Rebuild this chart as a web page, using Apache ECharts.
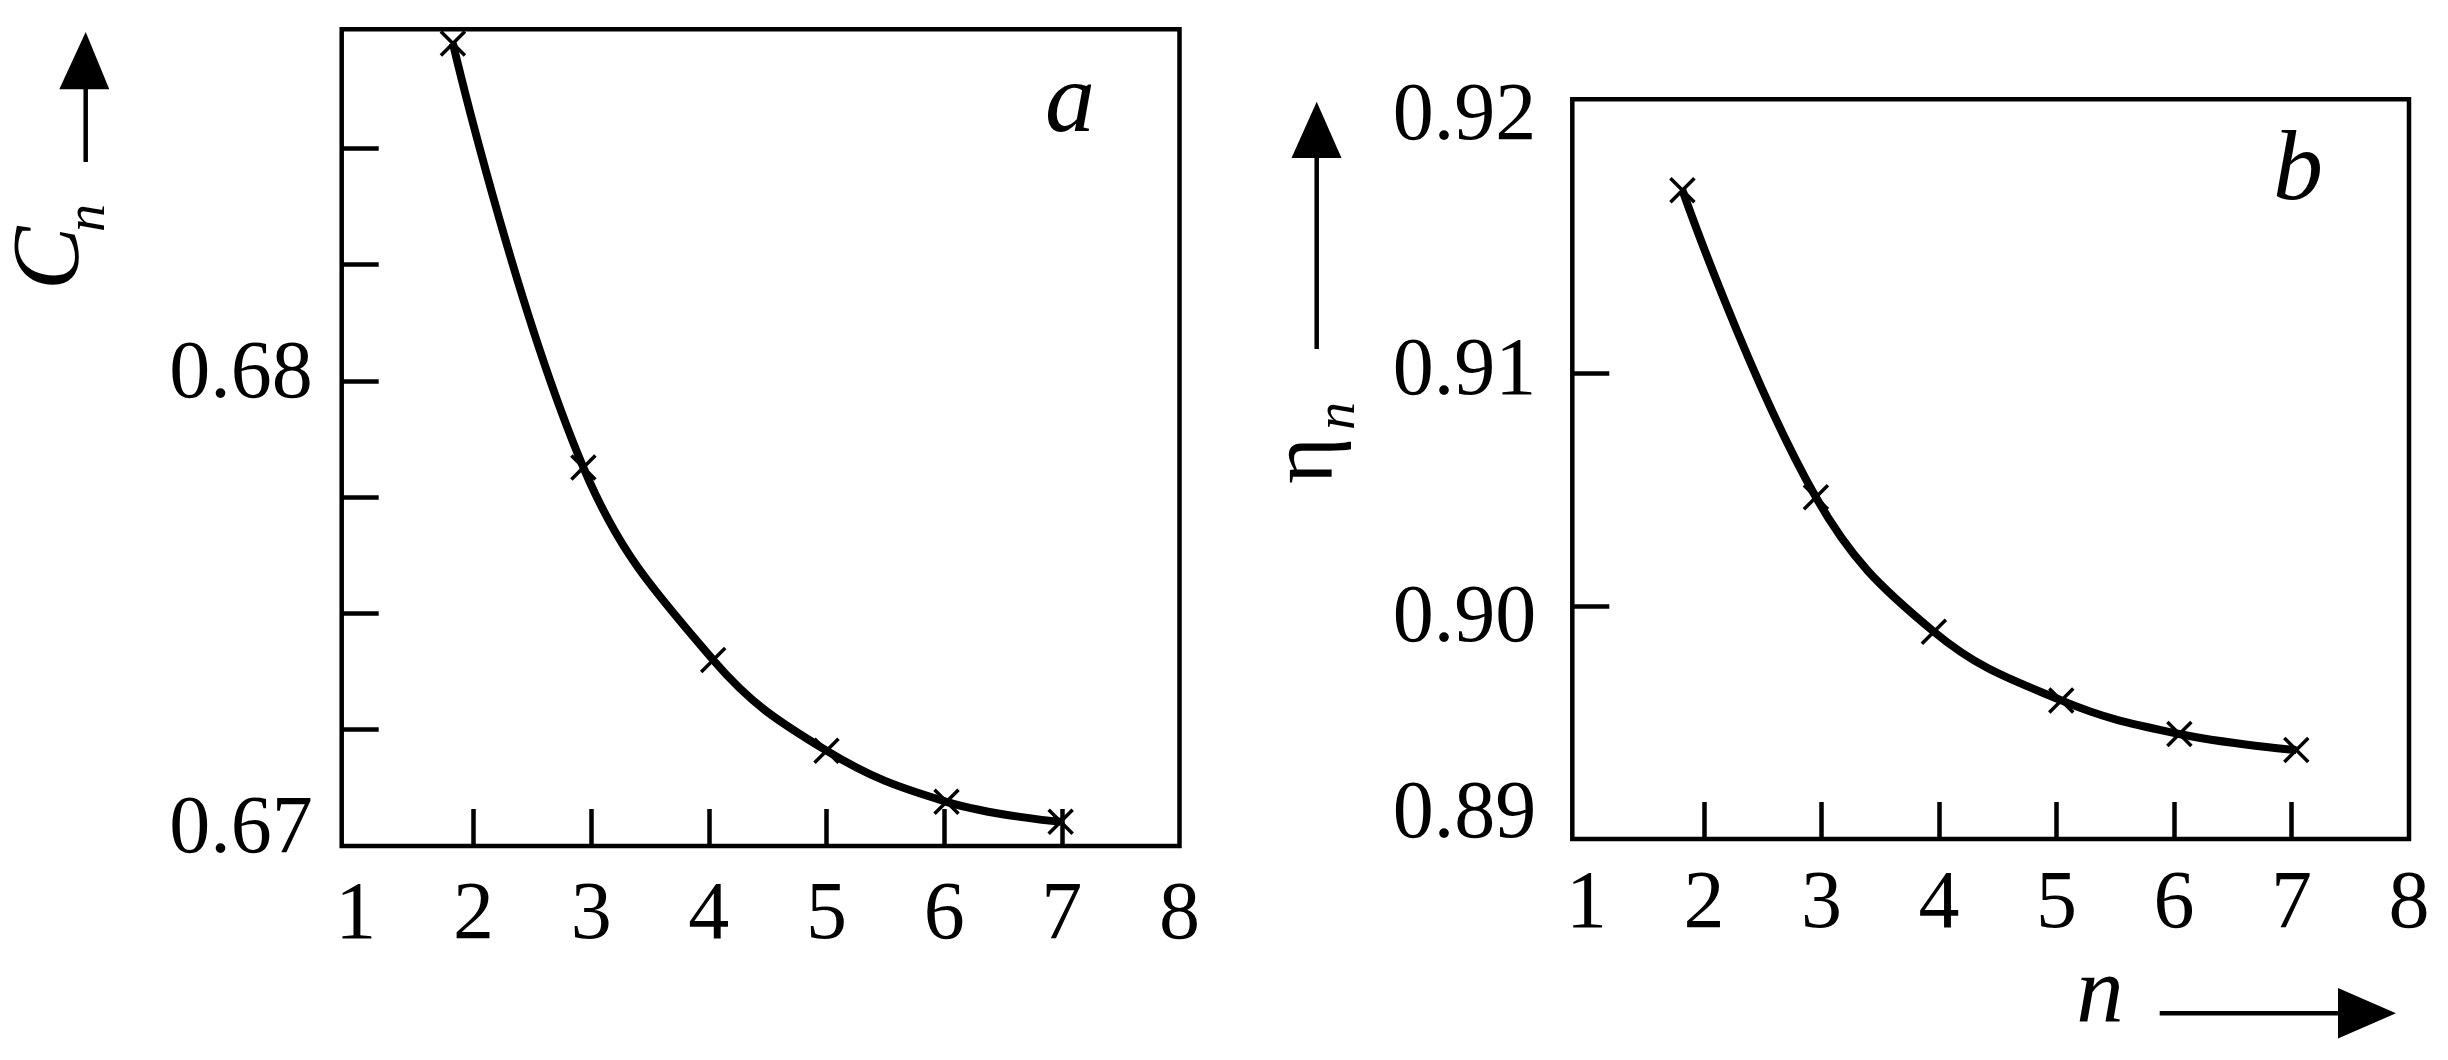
<!DOCTYPE html>
<html><head><meta charset="utf-8">
<script src="https://cdn.jsdelivr.net/npm/echarts@6/dist/echarts.min.js"></script>
<style>html,body{margin:0;padding:0;background:#fff}#c{width:2448px;height:1060px}</style>
</head><body><div id="c"></div>
<script>
// ---- data ----
const nA = [1.825, 2.934, 4.037, 5.0, 6.02, 6.99];
const cA = [0.68726, 0.67814, 0.67400, 0.67205, 0.67095, 0.67052];
const nB = [1.817, 2.953, 3.957, 5.041, 6.046, 7.041];
const etaB = [0.91785, 0.904665, 0.898897, 0.895948, 0.894506, 0.89382];

const xTickValues = [2, 3, 4, 5, 6, 7];
const xLabelValues = [1, 2, 3, 4, 5, 6, 7, 8];
const yTickValuesA = [0.6725, 0.675, 0.6775, 0.68, 0.6825, 0.685];
const yLabelValuesA = [0.67, 0.68];
const yTickValuesB = [0.90, 0.91];
const yLabelValuesB = [0.89, 0.90, 0.91, 0.92];

const SERIF = '"Liberation Serif", "Times New Roman", serif';
const LBL = 82;

// vertical shift of each y label relative to its value (px, + = up)
const shiftA = {'0.67': 16, '0.68': 6};
const shiftB = {'0.89': 24, '0.90': -13, '0.91': 1, '0.92': 23};
function richFor(map) {
  const r = {};
  Object.keys(map).forEach(k => {
    const d = map[k];
    r['s' + k.replace('.', '_')] = {
      fontSize: LBL, fontFamily: SERIF, color: '#000', lineHeight: LBL,
      padding: d > 0 ? [0, 0, 2 * d, 0] : [-2 * d, 0, 0, 0]
    };
  });
  return r;
}
function yFmt(v) { const s = v.toFixed(2); return '{s' + s.replace('.', '_') + '|' + s + '}'; }

const tickStyle = {color: '#000', width: 4.5};
function xAxis(gi, margin) {
  return {
    gridIndex: gi, type: 'value', min: 0.88, max: 8,
    axisLine: {show: false},
    splitLine: {show: false},
    axisTick: {show: true, inside: true, length: 37, lineStyle: tickStyle, customValues: xTickValues},
    axisLabel: {customValues: xLabelValues, margin: margin, fontSize: LBL, fontFamily: SERIF,
      color: '#000', lineHeight: LBL, hideOverlap: false}
  };
}
function yAxis(gi, min, max, ticks, labels, margin, shift) {
  return {
    gridIndex: gi, type: 'value', min: min, max: max,
    axisLine: {show: false},
    splitLine: {show: false},
    axisTick: {show: true, inside: true, length: 37, lineStyle: tickStyle, customValues: ticks},
    axisLabel: {customValues: labels, margin: margin, formatter: yFmt, rich: richFor(shift),
      fontSize: LBL, fontFamily: SERIF, color: '#000', hideOverlap: false}
  };
}
const crossSymbol = 'path://M0,0L10,10M10,0L0,10';
function series(xi, xs, ys) {
  return {
    type: 'line', xAxisIndex: xi, yAxisIndex: xi,
    data: xs.map((x, i) => [x, ys[i]]),
    smooth: 0.4, clip: false,
    lineStyle: {color: '#000', width: 8},
    symbol: crossSymbol, symbolSize: 24, showAllSymbol: true,
    itemStyle: {color: 'rgba(0,0,0,0)', borderColor: '#000', borderWidth: 3.5},
    z: 3, animation: false
  };
}

const gridStyle = {show: true, borderColor: '#000', borderWidth: 4.5, backgroundColor: 'transparent'};
const option = {
  animation: false,
  backgroundColor: '#fff',
  grid: [
    Object.assign({left: 341.7, top: 29.3, width: 837.8, height: 816.7}, gridStyle),
    Object.assign({left: 1572.3, top: 99.3, width: 836.7, height: 739.7}, gridStyle)
  ],
  xAxis: [xAxis(0, 29), xAxis(1, 25)],
  yAxis: [
    yAxis(0, 0.67, 0.687563, yTickValuesA, yLabelValuesA, 29, shiftA),
    yAxis(1, 0.89, 0.92175, yTickValuesB, yLabelValuesB, 36, shiftB)
  ],
  series: [series(0, nA, cA), series(1, nB, etaB)],
  graphic: [
    // panel letters
    {type: 'text', x: 1070, y: 105, style: {text: 'a', font: 'italic 100px ' + SERIF, fill: '#000', textAlign: 'center', textVerticalAlign: 'middle'}},
    {type: 'text', x: 2298, y: 173, style: {text: 'b', font: 'italic 100px ' + SERIF, fill: '#000', textAlign: 'center', textVerticalAlign: 'middle'}},
    // C_n axis title with arrow
    {type: 'text', x: 53.5, y: 290, rotation: Math.PI / 2, style: {text: 'C', font: 'italic 95px ' + SERIF, fill: '#000', textAlign: 'left', textVerticalAlign: 'middle'}},
    {type: 'text', x: 89.5, y: 232, rotation: Math.PI / 2, style: {text: 'n', font: 'italic 56px ' + SERIF, fill: '#000', textAlign: 'left', textVerticalAlign: 'middle'}},
    {type: 'line', shape: {x1: 85.7, y1: 162, x2: 85.7, y2: 85}, style: {stroke: '#000', lineWidth: 4.5}},
    {type: 'polygon', shape: {points: [[85.7, 32], [59.3, 89.3], [109.3, 89.3]]}, style: {fill: '#000'}},
    // eta_n axis title with arrow
    {type: 'text', x: 1308, y: 484, rotation: Math.PI / 2, style: {text: 'η', font: '90px ' + SERIF, fill: '#000', textAlign: 'left', textVerticalAlign: 'middle'}},
    {type: 'text', x: 1339, y: 430, rotation: Math.PI / 2, style: {text: 'n', font: 'italic 56px ' + SERIF, fill: '#000', textAlign: 'left', textVerticalAlign: 'middle'}},
    {type: 'line', shape: {x1: 1316.7, y1: 349, x2: 1316.7, y2: 155}, style: {stroke: '#000', lineWidth: 4.5}},
    {type: 'polygon', shape: {points: [[1316.7, 101.7], [1291.5, 158], [1341.5, 158]]}, style: {fill: '#000'}},
    // n axis title with arrow
    {type: 'text', x: 2100, y: 997, style: {text: 'n', font: 'italic 95px ' + SERIF, fill: '#000', textAlign: 'center', textVerticalAlign: 'middle'}},
    {type: 'line', shape: {x1: 2159.7, y1: 1013.3, x2: 2342, y2: 1013.3}, style: {stroke: '#000', lineWidth: 4.5}},
    {type: 'polygon', shape: {points: [[2396, 1013.3], [2338, 988], [2338, 1038.6]]}, style: {fill: '#000'}}
  ]
};
const chart = echarts.init(document.getElementById('c'));
chart.setOption(option);
</script>
</body></html>
